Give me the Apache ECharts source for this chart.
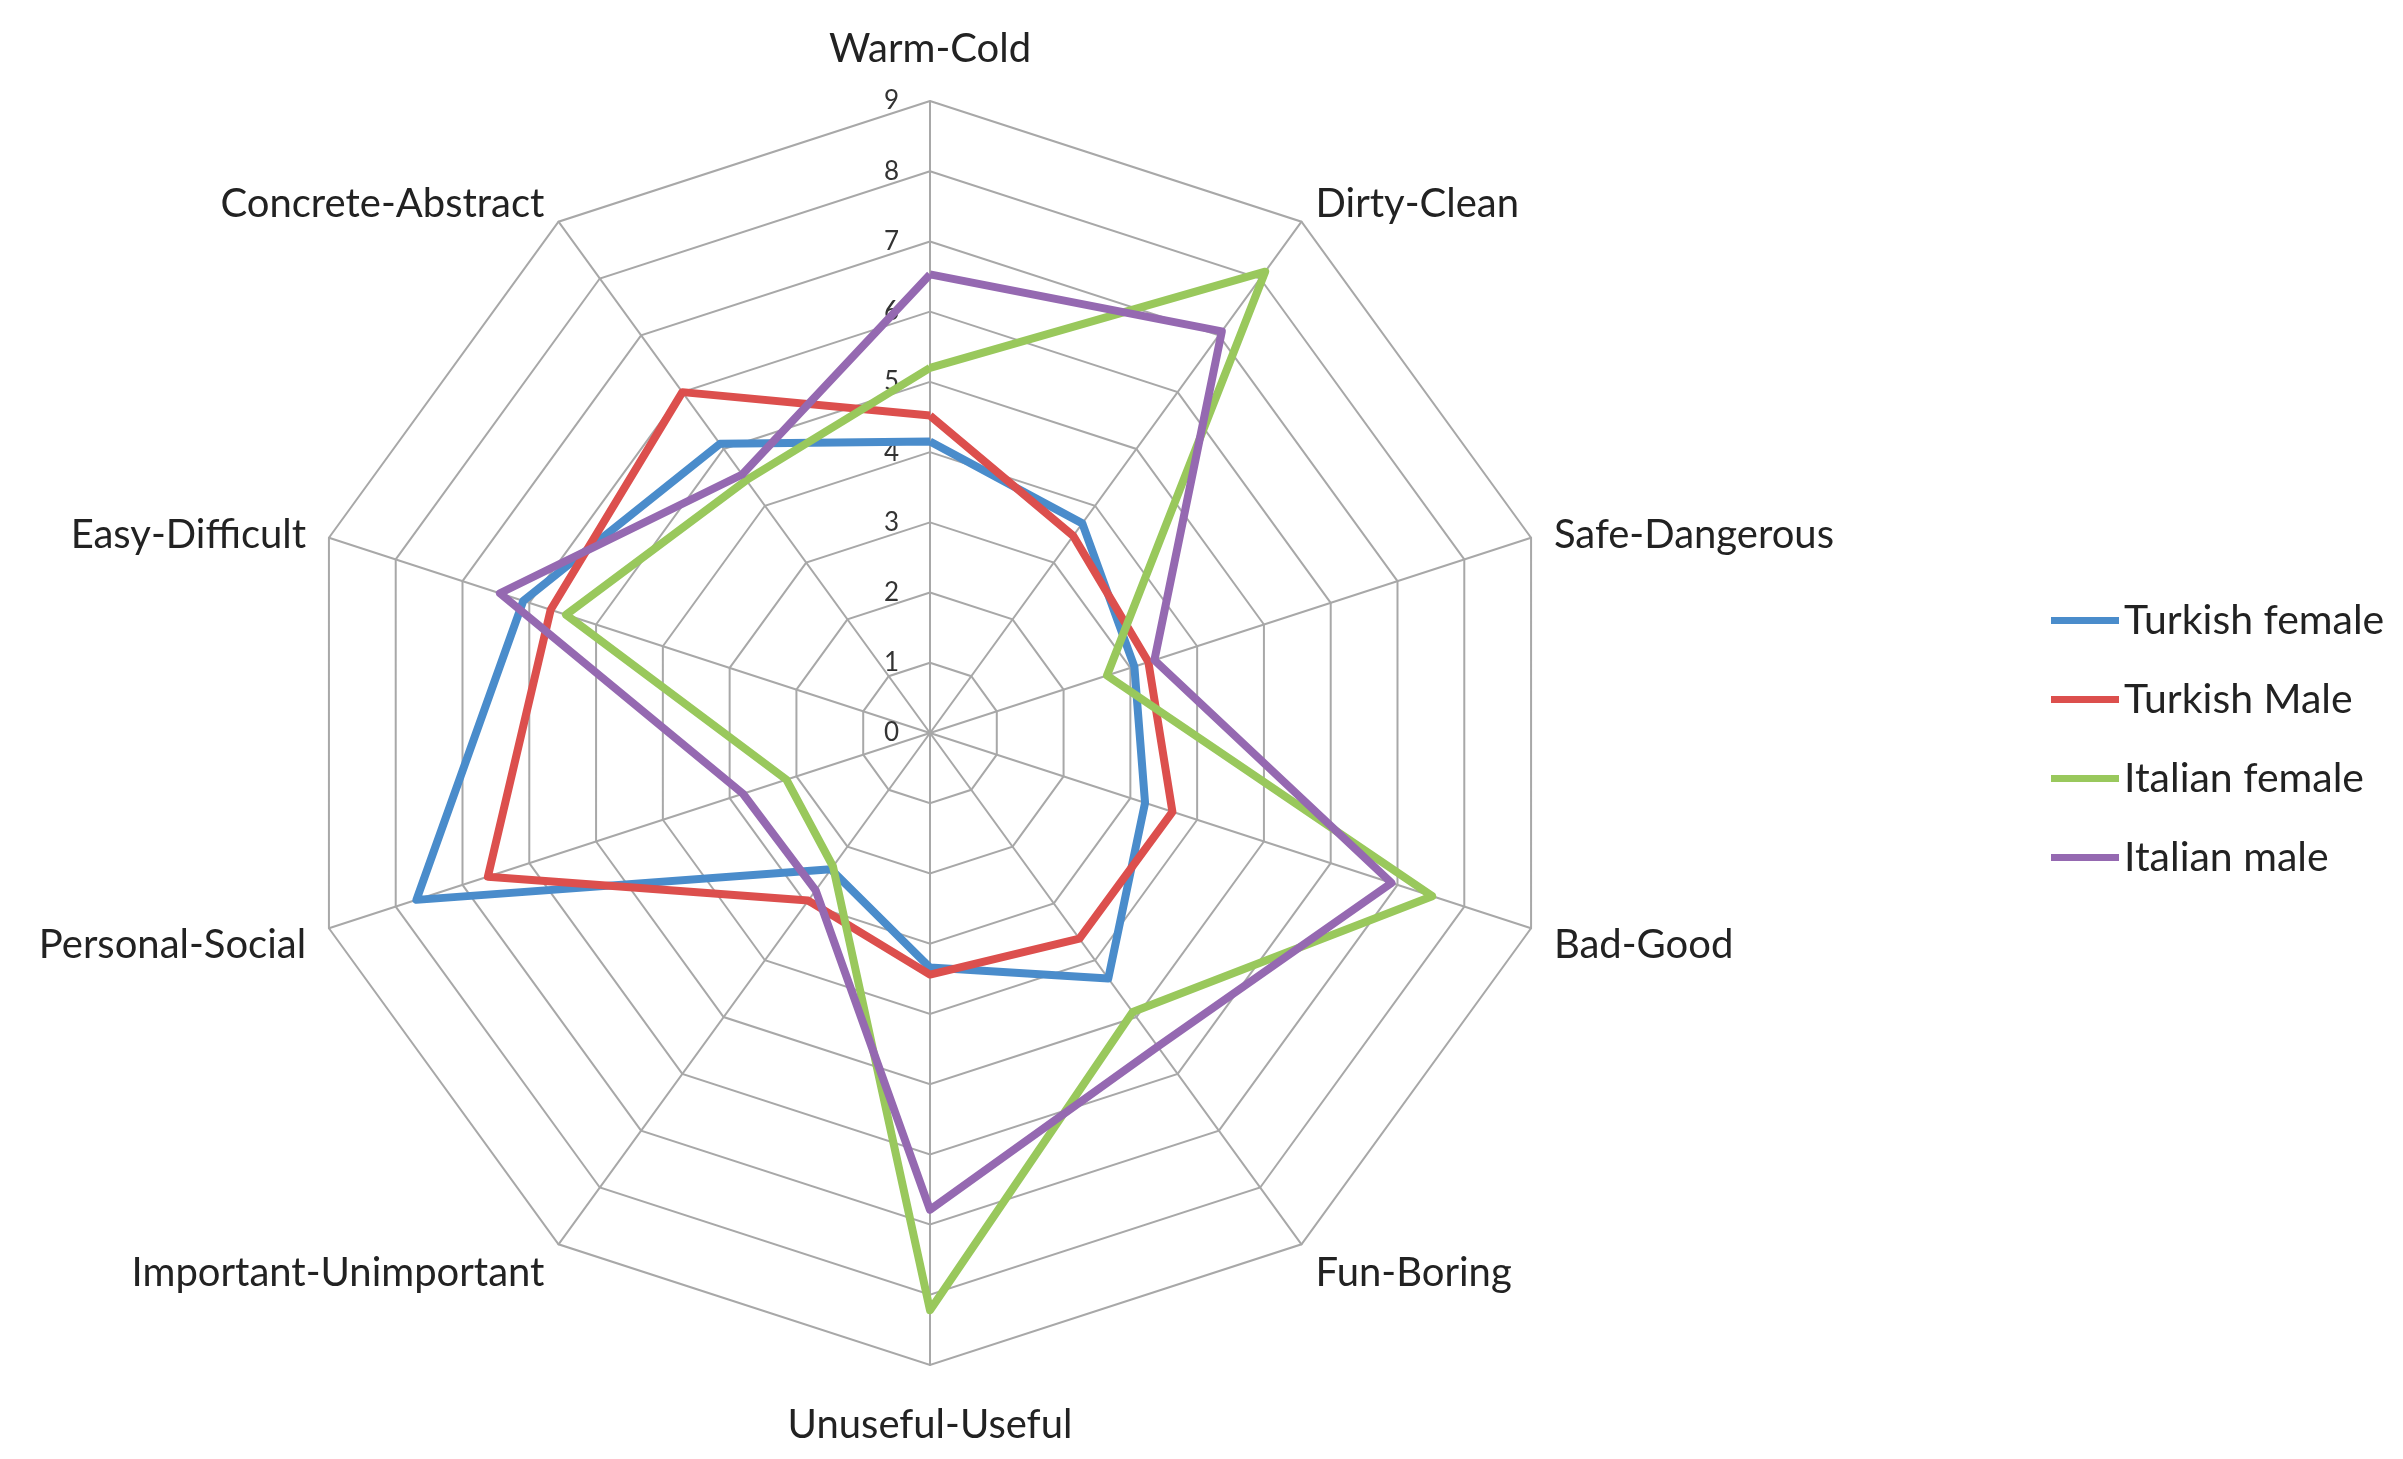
<!DOCTYPE html>
<html><head><meta charset="utf-8">
<script src="https://cdn.jsdelivr.net/npm/echarts@6/dist/echarts.min.js"></script>
<style>html,body{margin:0;padding:0;background:#fff}#c{width:2403px;height:1459px}</style>
</head><body><div id="c"></div>
<script>
// Categories in clockwise order starting at the top
const categories = ['Warm-Cold', 'Dirty-Clean', 'Safe-Dangerous', 'Bad-Good', 'Fun-Boring',
  'Unuseful-Useful', 'Important-Unimportant', 'Personal-Social', 'Easy-Difficult', 'Concrete-Abstract'];
const turkishFemale = [4.15, 3.69, 3.06, 3.22, 4.32, 3.34, 2.40, 7.69, 6.09, 5.09];
const turkishMale   = [4.52, 3.47, 3.27, 3.63, 3.62, 3.44, 2.95, 6.62, 5.68, 6.00];
const italianFemale = [5.20, 8.12, 2.65, 7.52, 4.91, 8.22, 2.35, 2.15, 5.45, 4.45];
const italianMale   = [6.53, 7.07, 3.36, 6.91, 5.52, 6.79, 2.77, 2.80, 6.44, 4.55];
const seriesNames = ['Turkish female', 'Turkish Male', 'Italian female', 'Italian male'];
const axisMin = 0, axisMax = 9, axisSplits = 9;

const colors = ['#4A8CCB', '#DC4F4D', '#99C85C', '#9569B1'];
const FONT = 'Lato';

// ECharts lays indicators out anticlockwise; reorder so the picture runs clockwise
const n = categories.length;
const ecOrder = categories.map((_, i) => i === 0 ? 0 : n - i);
const reorder = arr => ecOrder.map(k => arr[k]);

// small per-axis label nudges (style only): rich style key per name
const nameStyleKey = {
  'Warm-Cold': 'p0', 'Unuseful-Useful': 'p0',
  'Dirty-Clean': 'p3', 'Concrete-Abstract': 'p3',
  'Safe-Dangerous': 'p9', 'Easy-Difficult': 'p9',
  'Bad-Good': 'p18', 'Personal-Social': 'p18',
  'Fun-Boring': 'p18', 'Important-Unimportant': 'p18'
};
const nameText = { fontFamily: FONT, fontSize: 40, color: '#222' };
const rich = {
  p0: Object.assign({ padding: [0, 0, 0, 0] }, nameText),
  p3: Object.assign({ padding: [3, 0, 0, 0] }, nameText),
  p9: Object.assign({ padding: [9, 0, 0, 0] }, nameText),
  p18: Object.assign({ padding: [18, 0, 0, 0] }, nameText)
};

const indicator = reorder(categories).map((name, i) => {
  const ind = { name: name, min: axisMin, max: axisMax };
  if (i === 0) {
    ind.axisLabel = { show: true };
    ind.nameGap = 52;
  }
  if (name === 'Unuseful-Useful') ind.nameGap = 60;
  return ind;
});

const allSeries = [turkishFemale, turkishMale, italianFemale, italianMale];

const chart = echarts.init(document.getElementById('c'), null, { renderer: 'canvas' });
chart.setOption({
  backgroundColor: '#ffffff',
  animation: false,
  color: colors,
  legend: {
    orient: 'vertical',
    left: 2051,
    top: 600,
    padding: 0,
    icon: 'rect',
    itemWidth: 68,
    itemHeight: 7,
    itemGap: 38,
    data: seriesNames,
    textStyle: { fontFamily: FONT, fontSize: 41, color: '#222', lineHeight: 40 }
  },
  radar: {
    center: [930, 733],
    radius: 632,
    startAngle: 90,
    shape: 'polygon',
    splitNumber: axisSplits,
    nameGap: 24,
    axisName: Object.assign({
      verticalAlign: 'middle',
      formatter: name => '{' + nameStyleKey[name] + '|' + name + '}',
      rich: rich
    }, nameText),
    axisLine: { show: true, lineStyle: { color: '#a8a8a8', width: 2 } },
    splitLine: { show: true, lineStyle: { color: '#a8a8a8', width: 2 } },
    splitArea: { show: false },
    axisTick: { show: false },
    axisLabel: { show: false, fontFamily: FONT, fontSize: 26, color: '#333', margin: 31 },
    indicator: indicator
  },
  series: allSeries.map((vals, i) => ({
    type: 'radar',
    name: seriesNames[i],
    symbol: 'none',
    lineStyle: { width: 8, color: colors[i] },
    itemStyle: { color: colors[i] },
    data: [{ name: seriesNames[i], value: reorder(vals) }]
  }))
});
</script></body></html>
